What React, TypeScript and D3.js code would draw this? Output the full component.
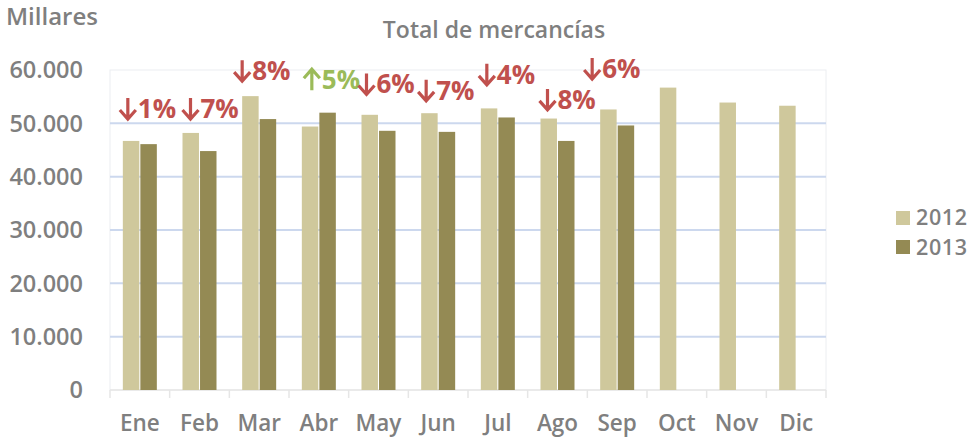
import React from "react";
import * as d3 from "d3";

const months = ["Ene", "Feb", "Mar", "Abr", "May", "Jun", "Jul", "Ago", "Sep", "Oct", "Nov", "Dic"];
const values2012 = [46700, 48200, 55100, 49400, 51600, 51900, 52800, 50900, 52600, 56700, 53900, 53300];
const values2013: (number | null)[] = [46100, 44800, 50800, 52000, 48600, 48400, 51100, 46700, 49600, null, null, null];
const seriesNames = ["2012", "2013"];
const yTicks = [0, 10000, 20000, 30000, 40000, 50000, 60000];
const changeLabels = ["1%", "7%", "8%", "5%", "6%", "7%", "4%", "8%", "6%"];
const changeUp = [false, false, false, true, false, false, false, false, false];
// annotation placement (layout only): left edge shift from band centre, baseline level in axis units
const annDx = [-21, -18, -26, -16, -21, -21, -20, -19, -34];
const annLevel = [51000, 51000, 58100, 56400, 55600, 54400, 57400, 52700, 58500];

const W = 973, H = 440;
const left = 110, right = 826, top = 70, bottom = 390;
const colors = ["#CFC89C", "#948A54"];
const gray = "#7F7F7F";
const font = "'Open Sans', 'Liberation Sans', sans-serif";

function arrowPath(ax: number, base: number, up: boolean) {
  const topY = base - 20, botY = base + 1;
  const cx = ax + 9;
  if (!up) {
    return `M${cx},${topY} L${cx},${botY - 1} M${ax + 1},${botY - 9} L${cx},${botY} L${ax + 17},${botY - 9}`;
  }
  return `M${cx},${botY} L${cx},${topY + 1} M${ax + 1},${topY + 9} L${cx},${topY} L${ax + 17},${topY + 9}`;
}

export default function App() {
  const x = d3.scaleBand<string>().domain(months).range([left, right]);
  const y = d3.scaleLinear().domain([0, 60000]).range([bottom, top]);
  const sub = d3.scaleBand<string>().domain(seriesNames).range([-17, 17]).paddingInner(0.06);
  const fmt = (v: number) => d3.format(",")(v).replace(/,/g, ".");
  const series = [values2012, values2013];

  return (
    <svg width={W} height={H} style={{ position: "absolute", left: 0, top: 0, background: "#fff" }}>
      <rect x={left} y={top} width={right - left} height={bottom - top} fill="none" stroke="#ECEEF1" strokeWidth={1} />
      {yTicks.map((t) => (
        <g key={t}>
          {t > 0 && t < 60000 && (
            <line x1={left} x2={right} y1={y(t)} y2={y(t)} stroke="#CCD8EE" strokeWidth={2} />
          )}
          <text x={83} y={y(t)} dy="0.36em" textAnchor="end" fontFamily={font} fontWeight={600} fontSize={23.5} fill={gray}>
            {fmt(t)}
          </text>
        </g>
      ))}
      <line x1={left} x2={right} y1={bottom} y2={bottom} stroke="#E6E6E6" strokeWidth={1.5} />
      {d3.range(months.length + 1).map((i) => {
        const xx = left + i * x.bandwidth();
        return <line key={i} x1={xx} x2={xx} y1={bottom} y2={bottom + 8} stroke="#E6E6E6" strokeWidth={1.5} />;
      })}
      {series.map((vals, si) =>
        vals.map((v, i) =>
          v == null ? null : (
            <rect
              key={si + "-" + i}
              x={(x(months[i]) as number) + x.bandwidth() / 2 + (sub(seriesNames[si]) as number)}
              y={y(v)}
              width={sub.bandwidth()}
              height={bottom - y(v)}
              fill={colors[si]}
            />
          )
        )
      )}
      {months.map((m) => (
        <text key={m} x={(x(m) as number) + x.bandwidth() / 2} y={431} textAnchor="middle" fontFamily={font} fontWeight={600} fontSize={22.5} fill={gray}>
          {m}
        </text>
      ))}
      {changeLabels.map((lab, i) => {
        const ax = (x(months[i]) as number) + x.bandwidth() / 2 + annDx[i];
        const base = y(annLevel[i]);
        const col = changeUp[i] ? "#9BBB59" : "#C0504D";
        return (
          <g key={i}>
            <path d={arrowPath(ax, base, changeUp[i])} fill="none" stroke={col} strokeWidth={3.2} strokeLinejoin="miter" />
            <text x={ax + 19} y={base} fontFamily={font} fontWeight={700} fontSize={26} fill={col}>
              {lab}
            </text>
          </g>
        );
      })}
      <text x={494} y={38} textAnchor="middle" fontFamily={font} fontWeight={600} fontSize={23} fill={gray}>
        Total de mercancías
      </text>
      <text x={6} y={25} fontFamily={font} fontWeight={600} fontSize={24} fill={gray}>
        Millares
      </text>
      {seriesNames.map((s, i) => (
        <g key={s}>
          <rect x={896} y={211 + i * 29} width={14} height={14} fill={colors[i]} />
          <text x={916} y={225 + i * 30} fontFamily={font} fontWeight={600} fontSize={21.5} letterSpacing={0.6} fill={gray}>
            {s}
          </text>
        </g>
      ))}
    </svg>
  );
}
